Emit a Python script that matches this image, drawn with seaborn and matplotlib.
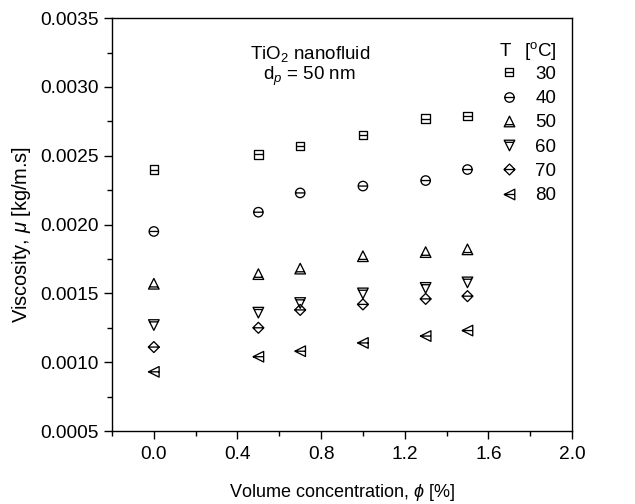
import numpy as np
import pandas as pd
import matplotlib
matplotlib.use("Agg")
import matplotlib.pyplot as plt
from matplotlib.path import Path
from matplotlib.lines import Line2D
import seaborn as sns

# ---------------------------------------------------------
# Data
# ---------------------------------------------------------
phi = [0.0, 0.5, 0.7, 1.0, 1.3, 1.5]
temps = ["30", "40", "50", "60", "70", "80"]

mu_30 = [0.00240, 0.00251, 0.00257, 0.00265, 0.00277, 0.00279]
mu_40 = [0.00195, 0.00209, 0.00223, 0.00228, 0.00232, 0.00240]
mu_50 = [0.00157, 0.00164, 0.00168, 0.00177, 0.00180, 0.00182]
mu_60 = [0.00127, 0.00136, 0.00143, 0.00150, 0.00154, 0.00158]
mu_70 = [0.00111, 0.00125, 0.00138, 0.00142, 0.00146, 0.00148]
mu_80 = [0.00093, 0.00104, 0.00108, 0.00114, 0.00119, 0.00123]

series = [mu_30, mu_40, mu_50, mu_60, mu_70, mu_80]

df = pd.DataFrame({
    "phi": np.tile(phi, len(temps)),
    "mu": np.concatenate(series),
    "T": np.repeat(temps, len(phi)),
})


# ---------------------------------------------------------
# Origin-like hollow markers with a horizontal bar
# ---------------------------------------------------------
def shape_with_bar(verts, bar_y, bar_half):
    outline = Path(verts + [verts[0]],
                   [Path.MOVETO] + [Path.LINETO] * (len(verts) - 1) + [Path.CLOSEPOLY])
    bar = Path([(-bar_half, bar_y), (bar_half, bar_y)], [Path.MOVETO, Path.LINETO])
    return Path.make_compound_path(outline, bar)


circle = Path.unit_circle()
circle_bar = Path.make_compound_path(
    circle, Path([(-1, 0), (1, 0)], [Path.MOVETO, Path.LINETO]))

markers = {
    "30": shape_with_bar([(-1, -1), (1, -1), (1, 1), (-1, 1)], 0.0, 1.0),
    "40": circle_bar,
    "50": shape_with_bar([(0, 1), (-1, -1), (1, -1)], -0.6, 0.8),
    "60": shape_with_bar([(0, -1), (1, 1), (-1, 1)], 0.6, 0.8),
    "70": shape_with_bar([(0, 1), (-1, 0), (0, -1), (1, 0)], 0.0, 1.0),
    "80": shape_with_bar([(-1, 0), (1, -1), (1, 1)], 0.0, 1.0),
}
sizes = {"30": 38, "40": 46, "50": 58, "60": 58, "70": 62, "80": 58}

# ---------------------------------------------------------
# Plot
# ---------------------------------------------------------
sns.set_style("ticks")
plt.rcParams["font.family"] = ["Liberation Sans", "DejaVu Sans"]
plt.rcParams["mathtext.fontset"] = "custom"
plt.rcParams["mathtext.rm"] = "Liberation Sans"
plt.rcParams["mathtext.it"] = "Liberation Sans:italic"
plt.rcParams["text.color"] = "black"
plt.rcParams["axes.labelcolor"] = "black"

fig = plt.figure(figsize=(6.35, 5.04), dpi=100)
ax = fig.add_axes([0.1764, 0.1448, 0.7244, 0.8192])

for t in temps:
    sub = df[df["T"] == t]
    sns.scatterplot(
        data=sub, x="phi", y="mu",
        marker=markers[t], s=sizes[t],
        facecolor="none", edgecolor="black", linewidth=0.95,
        legend=False, ax=ax
    )

ax.set_xlim(-0.2, 2.0)
ax.set_ylim(0.0005, 0.0035)
ax.set_xticks([0.0, 0.4, 0.8, 1.2, 1.6, 2.0])
ax.set_xticks(np.arange(-0.2, 2.01, 0.2), minor=True)
ax.set_yticks([0.0005, 0.0010, 0.0015, 0.0020, 0.0025, 0.0030, 0.0035])
ax.set_yticks(np.arange(0.00075, 0.0035, 0.0005), minor=True)
ax.xaxis.set_major_formatter(matplotlib.ticker.FormatStrFormatter("%.1f"))
ax.yaxis.set_major_formatter(matplotlib.ticker.FormatStrFormatter("%.4f"))

ax.tick_params(axis="both", which="major", direction="out", length=6,
               width=1.0, labelsize=13.8, colors="black")
ax.tick_params(axis="x", which="major", pad=5)
ax.tick_params(axis="both", which="minor", direction="out", length=3.5,
               width=1.0, colors="black")
for sp in ax.spines.values():
    sp.set_visible(True)
    sp.set_linewidth(1.0)
    sp.set_color("black")

ax.set_xlabel(r"Volume concentration, $\phi$ [%]", fontsize=13)
ax.set_ylabel(r"Viscosity, $\mu$ [kg/m.s]", fontsize=14.4)
ax.xaxis.set_label_coords(0.5, -0.123)
ax.yaxis.set_label_coords(-0.171, 0.475)

ax.text(0.43, 0.912, r"TiO$_2$ nanofluid", transform=ax.transAxes,
        ha="center", va="center", fontsize=13.5)
ax.text(0.43, 0.858, r"d$_p$ = 50 nm", transform=ax.transAxes,
        ha="center", va="center", fontsize=13.5)

# legend header written as two separate texts (T over markers, unit over values)
ax.text(0.855, 0.92, "T", transform=ax.transAxes,
        ha="center", va="center", fontsize=13.5)
ax.text(0.93, 0.92, r"[$^{\mathrm{o}}$C]", transform=ax.transAxes,
        ha="center", va="center", fontsize=13.5)

handles = [
    Line2D([], [], linestyle="none", marker=markers[t],
           markersize=np.sqrt(sizes[t]), markerfacecolor="none",
           markeredgecolor="black", markeredgewidth=0.95)
    for t in temps
]
leg = ax.legend(handles, temps,
                loc="upper right", bbox_to_anchor=(0.99, 0.912),
                frameon=False, fontsize=13.5,
                handlelength=1.0, handletextpad=0.9, labelspacing=0.38,
                borderaxespad=0.2)

fig.savefig("out.png", dpi=100)
